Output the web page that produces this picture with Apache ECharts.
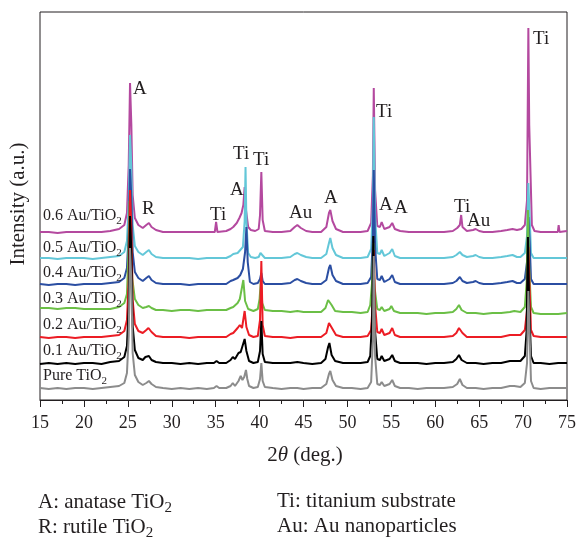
<!DOCTYPE html>
<html>
<head>
<meta charset="utf-8">
<script src="https://cdn.jsdelivr.net/npm/echarts@6/dist/echarts.min.js"></script>
<style>
  html, body { margin: 0; padding: 0; background: #fff; }
  #chart { width: 579px; height: 537px; }
</style>
</head>
<body>
<div id="chart"></div>
<script>
// XRD patterns of pure TiO2 and Au/TiO2 films on Ti substrate (intensity in a.u., stacked)
const sampleNames = ['Pure TiO2', '0.1 Au/TiO2', '0.2 Au/TiO2', '0.3 Au/TiO2', '0.4 Au/TiO2', '0.5 Au/TiO2', '0.6 Au/TiO2'];
const sampleColors = ['#8c8c8c', '#000000', '#ec1c24', '#6bbf46', '#2b4ea2', '#63c7d8', '#b4499f'];
const stackOffsets = [9, 34, 60, 87, 113, 139, 165];
const xTicks = [15, 20, 25, 30, 35, 40, 45, 50, 55, 60, 65, 70, 75];

const pureTiO2 = [[15,3],[16,2],[17,3],[18,2],[19,3],[20,3],[21,2],[22,3],[23,4],[24,5],[24.6,8],[24.9,18],[25.1,55],[25.25,143],[25.4,110],[25.55,38],[25.8,16],[26.2,9],[26.7,6],[27.1,8],[27.4,10],[27.7,7],[28.2,4],[29,3],[30,2],[31,3],[32,2],[33,3],[34,2],[34.8,3],[35.1,5],[35.4,3],[36.2,3],[36.7,5],[36.95,8],[37.2,5],[37.6,10],[37.85,15],[38.05,11],[38.25,14],[38.45,21],[38.6,12],[38.8,5],[39.3,3],[39.8,4],[40.05,12],[40.2,28],[40.35,10],[40.6,4],[41.5,3],[42.5,2],[43.5,3],[44.3,3],[45,2],[46,3],[47,3],[47.6,7],[47.9,17],[48.05,20],[48.3,11],[48.7,5],[49.5,3],[50.5,3],[51.5,2],[52.3,3],[52.7,9],[52.9,50],[53.0,135],[53.15,35],[53.4,7],[53.7,6],[53.9,9],[54.2,5],[54.8,7],[55.1,11],[55.4,5],[56,3],[57,3],[58,2],[59,3],[60,3],[61,3],[62,4],[62.5,7],[62.8,12],[63.1,6],[63.6,3],[64.6,3],[65.5,2],[66.5,3],[67.5,3],[68.5,5],[69,5],[69.7,4],[70.2,8],[70.45,28],[70.6,100],[70.75,55],[70.9,10],[71.2,3],[72,2],[73,3],[74,3],[75,3]];

const au01 = [[15,2],[16,3],[17,2],[18,3],[19,2],[20,3],[21,3],[22,2],[23,4],[24,5],[24.6,9],[24.9,20],[25.1,60],[25.25,150],[25.4,115],[25.55,40],[25.8,16],[26.2,8],[26.7,6],[27.0,9],[27.2,8],[27.4,10],[27.7,6],[28.2,4],[29,3],[30,3],[31,2],[32,3],[33,2],[34,3],[34.8,3],[35.1,5],[35.4,3],[36.2,3],[36.7,6],[36.95,9],[37.2,7],[37.6,13],[37.85,14],[38.05,12],[38.3,27],[38.5,15],[38.8,5],[39.3,3],[39.8,4],[40.05,15],[40.2,45],[40.35,12],[40.6,4],[41.5,3],[42.5,3],[43.5,3],[44.3,4],[45,3],[46,2],[47,3],[47.5,7],[47.8,19],[47.95,23],[48.2,11],[48.6,5],[49.5,3],[50.5,3],[51.5,3],[52.3,4],[52.6,10],[52.8,45],[52.95,130],[53.1,40],[53.4,7],[53.7,6],[53.9,10],[54.2,5],[54.8,7],[55.1,11],[55.4,5],[56,3],[57,3],[58,3],[59,2],[60,3],[61,3],[62,4],[62.4,7],[62.7,11],[63.0,6],[63.6,3],[64.6,3],[65.5,2],[66.5,3],[67.5,3],[68.5,5],[69,5],[69.7,5],[70.2,10],[70.4,35],[70.55,129],[70.7,60],[70.9,10],[71.2,3],[72,3],[73,2],[74,3],[75,3]];

const au02 = [[15,3],[16,2],[17,3],[18,3],[19,2],[20,3],[21,3],[22,3],[23,4],[24,5],[24.6,9],[24.9,20],[25.1,60],[25.25,150],[25.4,112],[25.55,40],[25.8,16],[26.2,9],[26.7,7],[27.1,10],[27.35,12],[27.7,8],[28.2,4],[29,3],[30,3],[31,3],[32,2],[33,3],[34,3],[35,3],[36.2,3],[36.7,6],[37.0,7],[37.5,12],[37.75,15],[38.0,12],[38.3,29],[38.5,13],[38.8,5],[39.3,3],[39.8,4],[40.05,20],[40.2,79],[40.35,15],[40.6,4],[41.5,3],[42.5,3],[43.5,2],[44.3,3],[45,3],[46,3],[47,3],[47.6,7],[47.9,17],[48.05,19],[48.3,11],[48.7,5],[49.5,3],[50.5,3],[51.5,3],[52.3,4],[52.7,10],[52.9,40],[53.0,90],[53.15,35],[53.4,8],[53.7,7],[53.9,11],[54.2,5],[54.8,7],[55.1,12],[55.4,5],[56,3],[57,3],[58,3],[59,3],[60,3],[61,3],[62,4],[62.4,7],[62.7,12],[62.9,10],[63.1,7],[63.6,3],[64.6,3],[65.5,3],[66.5,3],[67.5,3],[68.5,5],[69,5],[69.7,5],[70.2,10],[70.45,30],[70.6,93],[70.75,50],[70.9,10],[71.2,4],[72,3],[73,3],[74,3],[75,3]];

const au03 = [[15,5],[16,5],[17,4],[18,5],[19,5],[20,4],[21,4],[22,4],[23,4],[24,6],[24.6,10],[24.9,19],[25.05,55],[25.2,112],[25.35,85],[25.5,35],[25.8,14],[26.2,8],[26.7,5],[27.1,6],[27.4,7],[27.7,5],[28.2,3],[29,3],[30,2],[31,3],[32,3],[33,2],[34,3],[35,3],[36.2,3],[36.7,5],[37.0,6],[37.5,10],[37.75,14],[37.95,12],[38.15,33],[38.35,12],[38.7,4],[39.3,2],[39.8,4],[40.0,14],[40.15,33],[40.3,10],[40.6,3],[41.5,2],[42.5,2],[43.5,1],[44.3,2],[45,1],[46,1],[47,1],[47.5,5],[47.8,13],[47.95,14],[48.2,8],[48.6,2],[49.5,1],[50.5,1],[51.5,0],[52.3,1],[52.6,8],[52.8,30],[52.95,70],[53.1,25],[53.4,4],[53.7,3],[53.9,6],[54.2,2],[54.8,4],[55.0,7],[55.3,2],[56,0],[57,0],[58,0],[59,-1],[60,0],[61,0],[62,1],[62.4,4],[62.7,8],[63.0,3],[63.6,0],[64.6,0],[65.5,-1],[66.5,0],[67.5,0],[68.5,1],[69,2],[69.7,1],[70.2,6],[70.4,30],[70.55,103],[70.7,45],[70.9,6],[71.2,0],[72,-1],[73,-1],[74,-1],[75,0]];

const au04 = [[15,3],[16,2],[17,3],[18,3],[19,2],[20,3],[21,3],[22,3],[23,4],[24,5],[24.6,9],[24.9,19],[25.1,55],[25.25,118],[25.4,90],[25.55,35],[25.8,15],[26.2,9],[26.7,6],[27.1,9],[27.4,11],[27.7,7],[28.2,4],[29,3],[30,3],[31,3],[32,2],[33,3],[34,3],[35,3],[36.2,3],[36.7,6],[37.0,7],[37.5,9],[37.8,12],[38.1,18],[38.35,35],[38.5,60],[38.65,25],[38.9,5],[39.3,3],[39.8,4],[40.05,8],[40.2,14],[40.35,6],[40.6,3],[41.5,3],[42.5,3],[43.5,4],[44.0,7],[44.3,8],[44.7,6],[45.3,4],[46,3],[47,3],[47.6,7],[47.9,19],[48.05,22],[48.3,12],[48.7,6],[49.5,3],[50.5,3],[51.5,3],[52.3,4],[52.7,10],[52.9,50],[53.0,117],[53.15,40],[53.4,8],[53.7,7],[53.9,11],[54.2,5],[54.8,8],[55.1,12],[55.4,5],[56,3],[57,3],[58,3],[59,3],[60,3],[61,3],[62,4],[62.4,6],[62.8,10],[63.1,6],[63.6,4],[64.3,5],[64.6,6],[65.0,4],[65.5,3],[66.5,3],[67.5,4],[68.2,5],[68.8,6],[69.3,4],[69.7,4],[70.2,8],[70.45,25],[70.6,70],[70.75,45],[70.9,8],[71.2,3],[72,3],[73,3],[74,3],[75,3]];

const au05 = [[15,3],[16,3],[17,2],[18,3],[19,3],[20,3],[21,2],[22,3],[23,4],[24,5],[24.6,9],[24.9,20],[25.1,58],[25.25,126],[25.4,95],[25.55,36],[25.8,15],[26.2,9],[26.7,6],[27.1,9],[27.4,11],[27.7,7],[28.2,4],[29,3],[30,3],[31,3],[32,3],[33,2],[34,3],[35,3],[36.2,3],[36.7,5],[37.0,7],[37.5,8],[37.8,11],[38.1,14],[38.3,40],[38.4,94],[38.5,40],[38.7,8],[39.0,4],[39.5,3],[39.9,4],[40.1,8],[40.25,6],[40.6,3],[41.5,3],[42.5,3],[43.5,4],[44.0,7],[44.3,8],[44.7,6],[45.3,4],[46,3],[47,3],[47.6,7],[47.9,18],[48.05,23],[48.3,13],[48.7,6],[49.5,3],[50.5,3],[51.5,3],[52.3,4],[52.7,12],[52.9,55],[53.0,144],[53.15,45],[53.4,8],[53.7,7],[53.9,11],[54.2,5],[54.8,8],[55.1,12],[55.4,5],[56,3],[57,3],[58,3],[59,3],[60,3],[61,3],[62,4],[62.4,6],[62.8,9],[63.1,6],[63.6,4],[64.3,5],[64.6,6],[65.0,4],[65.5,3],[66.5,3],[67.5,4],[68.2,5],[68.8,6],[69.3,4],[69.7,4],[70.2,8],[70.45,25],[70.6,78],[70.75,45],[70.9,8],[71.2,3],[72,3],[73,3],[74,3],[75,3]];

const au06 = [[15,3],[16,3],[17,2],[18,3],[19,3],[20,3],[21,3],[22,3],[23,4],[24,6],[24.6,10],[24.9,22],[25.1,70],[25.25,152],[25.4,110],[25.55,40],[25.8,17],[26.2,10],[26.7,7],[27.1,10],[27.4,12],[27.7,8],[28.2,5],[29,3],[30,3],[31,3],[32,3],[33,3],[34,3],[34.9,3],[35.05,13],[35.2,3],[36.2,4],[36.7,6],[37.0,8],[37.4,12],[37.7,17],[37.95,22],[38.15,30],[38.3,48],[38.45,25],[38.7,8],[39.0,5],[39.5,4],[39.9,6],[40.05,20],[40.2,63],[40.35,15],[40.6,4],[41.5,3],[42.5,3],[43.5,4],[44.0,8],[44.3,10],[44.7,7],[45.3,4],[46,3],[47,3],[47.6,8],[47.9,22],[48.05,25],[48.3,14],[48.7,6],[49.5,3],[50.5,3],[51.5,3],[52.3,4],[52.7,12],[52.9,60],[53.0,147],[53.15,45],[53.4,9],[53.7,8],[53.9,13],[54.2,6],[54.8,8],[55.1,12],[55.4,6],[56,4],[57,3],[58,3],[59,3],[60,3],[61,3],[62,4],[62.5,7],[62.8,10],[62.95,20],[63.1,8],[63.6,4],[64.3,5],[64.6,6],[65.0,4],[65.5,3],[66.5,3],[67.5,4],[68.2,5],[68.8,6],[69.3,5],[69.8,6],[70.2,10],[70.45,35],[70.6,207],[70.7,110],[70.85,60],[71.0,10],[71.3,4],[72,3],[73,3],[73.95,3],[74.05,10],[74.15,3],[75,4]];

const patterns = [pureTiO2, au01, au02, au03, au04, au05, au06];

// Phase labels: [text, left x, middle y]
const peakLabels = [
  ['A', 133, 89], ['R', 142, 209], ['Ti', 210, 215], ['A', 230, 190],
  ['Ti', 233, 154], ['Ti', 253, 160], ['Au', 289, 213], ['A', 324, 198],
  ['Ti', 376, 112], ['A', 379, 205], ['A', 394, 208], ['Ti', 454, 207],
  ['Au', 467, 221], ['Ti', 533, 39]
];
// Sample label anchor (middle y) for each trace
const sampleLabelY = [376, 351, 325, 299, 273, 248, 216];

const SERIF = '"Liberation Serif", "DejaVu Serif", serif';
const INK = '#231f20';
const chart = echarts.init(document.getElementById('chart'), null, { renderer: 'canvas' });

function subText(main, sub, size) {
  return {
    text: '{m|' + main + '}{s|' + sub + '}',
    rich: {
      m: { fontFamily: SERIF, fontSize: size, fill: INK },
      s: { fontFamily: SERIF, fontSize: Math.round(size * 0.7), fill: INK, padding: [Math.round(size * 0.6), 0, 0, 0] }
    }
  };
}

const graphics = [];
peakLabels.forEach(function (p) {
  graphics.push({ type: 'text', x: p[1], y: p[2],
    style: { text: p[0], fontFamily: SERIF, fontSize: 19, fill: INK, verticalAlign: 'middle' }, z: 50 });
});
sampleNames.forEach(function (n, i) {
  const parts = n.split('TiO2');
  const st = subText(parts[0] + 'TiO', '2', 16);
  st.verticalAlign = 'middle';
  graphics.push({ type: 'text', x: 43, y: sampleLabelY[i], style: st, z: 50 });
});
// Axis titles
graphics.push({ type: 'text', x: 18, y: 204, rotation: Math.PI / 2,
  style: { text: 'Intensity (a.u.)', fontFamily: SERIF, fontSize: 21, fill: INK, align: 'center', verticalAlign: 'middle' } });
graphics.push({ type: 'text', x: 305, y: 455,
  style: { text: '{n|2}{t|θ}{n| (deg.)}', align: 'center', verticalAlign: 'middle',
    rich: { n: { fontFamily: SERIF, fontSize: 21, fill: INK },
            t: { fontFamily: SERIF, fontSize: 21, fontStyle: 'italic', fill: INK } } } });
// Phase key under the chart
const keyItems = [
  ['A: anatase TiO', '2', 38, 502], ['R: rutile TiO', '2', 38, 527],
  ['Ti: titanium substrate', '', 277, 501], ['Au: Au nanoparticles', '', 277, 526]
];
keyItems.forEach(function (k) {
  const st = k[1] ? subText(k[0], k[1], 21) : { text: k[0], fontFamily: SERIF, fontSize: 21, fill: INK };
  st.verticalAlign = 'middle';
  graphics.push({ type: 'text', x: k[2], y: k[3], style: st });
});

const series = patterns.map(function (pts, i) {
  return {
    name: sampleNames[i],
    type: 'line',
    data: pts.map(function (p) { return [p[0], p[1] + stackOffsets[i]]; }),
    showSymbol: false,
    symbol: 'none',
    animation: false,
    lineStyle: { color: sampleColors[i], width: 2 },
    z: 10 - i
  };
}).reverse();

chart.setOption({
  animation: false,
  backgroundColor: '#ffffff',
  grid: { left: 40, right: 10, top: 12, bottom: 137, show: true, borderColor: INK, borderWidth: 1, backgroundColor: 'transparent' },
  xAxis: {
    type: 'value', min: xTicks[0], max: xTicks[xTicks.length - 1], interval: 5,
    axisLine: { show: true, lineStyle: { color: INK, width: 1 } },
    axisTick: { show: true, inside: false, length: 7, lineStyle: { color: INK } },
    minorTick: { show: true, splitNumber: 2, length: 4, lineStyle: { color: INK } },
    splitLine: { show: false },
    axisLabel: { color: INK, fontFamily: SERIF, fontSize: 18, margin: 14 }
  },
  yAxis: {
    type: 'value', min: 0, max: 388,
    axisLine: { show: false }, axisTick: { show: false }, axisLabel: { show: false }, splitLine: { show: false }
  },
  series: series,
  graphic: graphics
});
</script>
</body>
</html>
